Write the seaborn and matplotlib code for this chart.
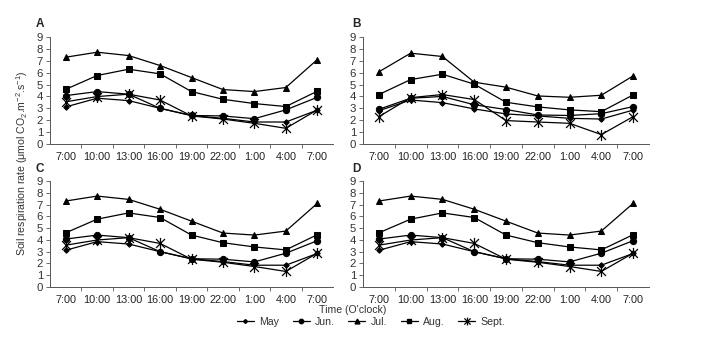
import numpy as np
import pandas as pd
import matplotlib
matplotlib.use("Agg")
import matplotlib.pyplot as plt
from matplotlib.path import Path
from matplotlib.lines import Line2D
import seaborn as sns

sns.set_theme(style="white")
plt.rcParams['font.family'] = ['Liberation Sans', 'DejaVu Sans']
plt.rcParams['mathtext.fontset'] = 'custom'
plt.rcParams['mathtext.rm'] = 'Liberation Sans'
plt.rcParams['mathtext.it'] = 'Liberation Sans'

times = ["7:00", "10:00", "13:00", "16:00", "19:00", "22:00", "1:00", "4:00", "7:00"]
months = ["May", "Jun.", "Jul.", "Aug.", "Sept."]

# Panel A (C and D show the same values)
a_may = [3.12, 3.85, 3.65, 3.00, 2.39, 2.16, 1.85, 1.85, 2.85]
a_jun = [4.07, 4.41, 4.19, 3.00, 2.40, 2.36, 2.13, 2.87, 3.93]
a_jul = [7.30, 7.72, 7.44, 6.60, 5.59, 4.58, 4.41, 4.75, 7.10]
a_aug = [4.60, 5.76, 6.29, 5.90, 4.41, 3.76, 3.40, 3.15, 4.44]
a_sep = [3.55, 3.99, 4.19, 3.70, 2.36, 2.10, 1.74, 1.32, 2.87]

# Panel B
b_may = [2.80, 3.70, 3.48, 2.95, 2.53, 2.36, 2.16, 2.10, 2.85]
b_jun = [2.92, 3.85, 4.00, 3.30, 2.90, 2.44, 2.40, 2.55, 3.15]
b_jul = [6.07, 7.64, 7.36, 5.20, 4.78, 4.04, 3.93, 4.10, 5.73]
b_aug = [4.16, 5.42, 5.87, 5.03, 3.51, 3.12, 2.87, 2.72, 4.13]
b_sep = [2.30, 3.90, 4.16, 3.74, 1.97, 1.85, 1.74, 0.79, 2.30]

panels = {
    "A": [a_may, a_jun, a_jul, a_aug, a_sep],
    "B": [b_may, b_jun, b_jul, b_aug, b_sep],
    "C": [a_may, a_jun, a_jul, a_aug, a_sep],
    "D": [a_may, a_jun, a_jul, a_aug, a_sep],
}

# asterisk marker: X plus vertical line
ast = Path([(-1, -1), (1, 1), (-1, 1), (1, -1), (0, -1.25), (0, 1.25)],
           [Path.MOVETO, Path.LINETO, Path.MOVETO, Path.LINETO, Path.MOVETO, Path.LINETO])

mstyle = {
    "May": dict(marker="D", markersize=2.8),
    "Jun.": dict(marker="o", markersize=4.5),
    "Jul.": dict(marker="^", markersize=5),
    "Aug.": dict(marker="s", markersize=5),
    "Sept.": dict(marker=ast, markersize=8, markerfacecolor="none", markeredgewidth=0.9),
}

fig = plt.figure(figsize=(7.21, 3.48), dpi=100)
W, H = 721, 348
boxes = {
    "A": (50, 37, 333, 144),
    "B": (363, 37, 649, 144),
    "C": (50, 181, 333, 287),
    "D": (363, 181, 649, 287),
}
labpos = {"A": (36, 24), "B": (352, 24), "C": (36, 169), "D": (352, 169)}

pos = np.arange(len(times))
for key, series in panels.items():
    x0, y0, x1, y1 = boxes[key]
    ax = fig.add_axes([x0 / W, 1 - y1 / H, (x1 - x0) / W, (y1 - y0) / H])
    for m, vals in zip(months, series):
        df = pd.DataFrame({"pos": pos, "val": vals})
        sns.lineplot(data=df, x="pos", y="val", ax=ax, color="black",
                     linewidth=0.9, markeredgecolor="black", **mstyle[m])
    ax.set_xlim(-0.5, 8.5)
    ax.set_ylim(0, 9)
    ax.set_yticks(range(10))
    ax.set_xticks(pos)
    ax.set_xticklabels(times)
    ax.set_xticks(np.arange(0.5, 8.5, 1), minor=True)
    ax.tick_params(axis="x", which="major", length=0, labelsize=7.8, pad=6, colors="#222222")
    ax.tick_params(axis="x", which="minor", length=3, width=0.6, direction="out", bottom=True, color="#555555")
    ax.tick_params(axis="y", length=3, width=0.6, direction="out", left=True, labelsize=8.2, pad=2, color="#555555")
    for lbl in ax.get_yticklabels():
        lbl.set_color("#333333")
    ax.set_xlabel("")
    ax.set_ylabel("")
    for s in ["top", "right"]:
        ax.spines[s].set_visible(False)
    for s in ["left", "bottom"]:
        ax.spines[s].set_color("#555555")
        ax.spines[s].set_linewidth(0.7)
    ax.grid(False)
    lx, ly = labpos[key]
    fig.text(lx / W, 1 - ly / H, key, fontsize=8.5, fontweight="bold", ha="left", va="center")

fig.text(22 / W, 1 - 163 / H,
         r"Soil respiration rate ($\mu$mol CO$_2$.m$^{-2}$.s$^{-1}$)",
         rotation=90, ha="center", va="center", fontsize=7.6, color="#333333")
fig.text(353 / W, 1 - 310 / H, "Time (O'clock)", ha="center", va="center", fontsize=7.6, color="#333333")

handles = [Line2D([0], [0], color="black", linewidth=0.9, markeredgecolor="black",
                  **{**mstyle[m], "markersize": mstyle[m]["markersize"] * 0.7}) for m in months]
fig.legend(handles, months, loc="center", bbox_to_anchor=(371 / W, 1 - 322 / H), ncol=5,
           frameon=False, fontsize=7.6, handlelength=1.6, handletextpad=0.5, columnspacing=1.3,
           labelcolor="#333333")

fig.savefig("out.png", dpi=100, facecolor="white")
